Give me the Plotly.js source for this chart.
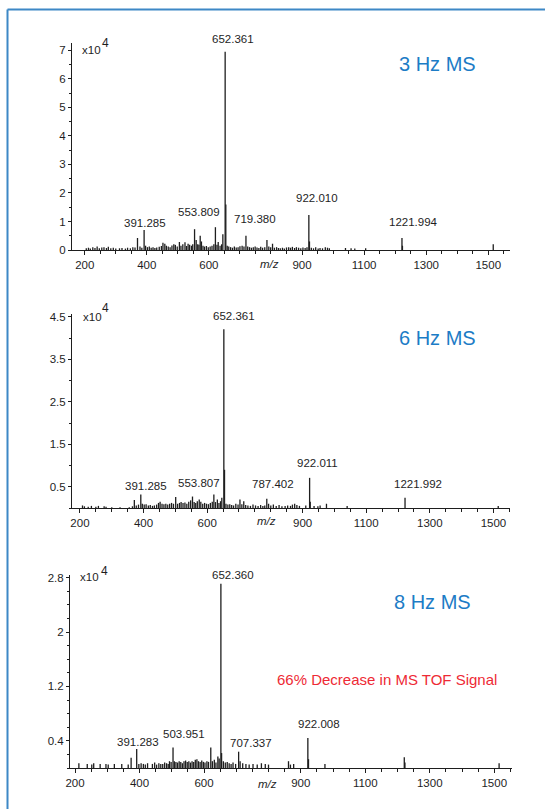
<!DOCTYPE html>
<html>
<head>
<meta charset="utf-8">
<script src="https://cdn.plot.ly/plotly-3.0.1.min.js"></script>
<style>
  html, body { margin: 0; padding: 0; background: #ffffff; }
  #chart { width: 545px; height: 809px; }
</style>
</head>
<body>
<div id="chart"></div>
<script>
// ---------------- DATA (intensity in units of 10^4 counts) ----------------
// Panel 1 : 3 Hz MS
const mz1 = [
  205, 212, 218, 226, 233, 240, 247, 255, 262, 270,
  276, 284, 292, 300, 312, 320, 331, 338, 347, 355,
  362, 370, 378, 384, 391.285, 396, 402, 408, 414, 420,
  426, 432, 440, 447, 452, 458, 463, 469, 475, 481,
  487, 492, 498, 505, 510, 516, 523, 528, 533, 538,
  544, 548, 553.809, 559, 564, 568, 572, 576, 581, 586,
  592, 598, 604, 610, 616, 621, 626, 630, 636, 641,
  645, 652.361, 654.5, 659, 664, 670, 676, 682, 688, 694,
  700, 707, 713, 719.380, 725, 731, 737, 743, 749, 755,
  761, 767, 773, 780, 787, 793, 799, 805, 811, 818,
  824, 830, 837, 843, 850, 857, 863, 869, 876, 882,
  889, 896, 903, 910, 916, 922.010, 924, 930, 937, 944,
  952, 958, 966, 975, 982, 988, 1040, 1058, 1070, 1105,
  1221.994, 1223.5, 1516
];
const int1 = [
  .06, .08, .05, .1, .07, .12, .06, .09, .1, .07,
  .11, .06, .08, .05, .06, .07, .05, .08, .06, .1,
  .09, .42, .12, .08, .7, .15, .1, .12, .08, .1,
  .07, .09, .11, .14, .25, .22, .15, .12, .1, .16,
  .2, .18, .12, .28, .15, .2, .27, .14, .22, .18,
  .15, .2, .73, .35, .2, .18, .5, .3, .15, .12,
  .14, .1, .12, .15, .2, .8, .18, .28, .15, .2,
  .55, 6.95, 1.6, .15, .12, .1, .08, .12, .09, .1,
  .13, .15, .12, .5, .12, .1, .08, .1, .12, .09,
  .07, .11, .08, .1, .35, .12, .1, .22, .08, .1,
  .07, .06, .08, .05, .09, .1, .08, .11, .07, .1,
  .08, .06, .09, .07, .1, 1.23, .3, .08, .06, .1,
  .05, .07, .06, .1, .08, .06, .07, .06, .05, .06,
  .42, .15, .2
];
const labels1 = ['652.361', '391.285', '553.809', '719.380', '922.010', '1221.994'];

// Panel 2 : 6 Hz MS
const mz2 = [
  208, 214, 226, 236, 250, 258, 276, 282, 300, 326,
  355, 365, 371, 377, 384, 391.285, 396, 402, 408, 415,
  421, 428, 434, 441, 447, 452, 458, 464, 470, 476,
  482, 488, 494, 501, 507, 513, 518, 524, 530, 536,
  542, 548, 553.807, 559, 564, 569, 575, 580, 586, 592,
  598, 604, 610, 616, 621, 626, 632, 637, 642, 646,
  652.361, 654.5, 659, 665, 671, 677, 683, 690, 697, 703,
  709, 715, 721, 728, 736, 744, 752, 760, 768, 775,
  781, 787.402, 793, 800, 808, 817, 826, 835, 845, 853,
  862, 868, 875, 882, 890, 910, 922.011, 924, 936, 948,
  955, 975, 1040, 1221.992, 1515
];
const int2 = [
  .06, .04, .03, .05, .03, .05, .04, .03, .02, .02,
  .02, .04, .19, .06, .08, .32, .1, .08, .09, .06,
  .07, .05, .06, .08, .12, .15, .1, .09, .1, .08,
  .1, .12, .1, .26, .1, .12, .14, .12, .13, .1,
  .15, .18, .27, .14, .12, .16, .2, .15, .1, .12,
  .1, .09, .12, .15, .32, .14, .2, .12, .16, .24,
  4.21, .9, .1, .08, .09, .07, .06, .1, .08, .2,
  .09, .16, .07, .06, .05, .08, .06, .05, .07, .05,
  .06, .22, .1, .06, .08, .05, .07, .04, .05, .06,
  .05, .08, .1, .07, .05, .06, .71, .15, .05, .04,
  .06, .1, .05, .24, .05
];
const labels2 = ['652.361', '391.285', '553.807', '787.402', '922.011', '1221.992'];

// Panel 3 : 8 Hz MS
const mz3 = [
  212, 238, 252, 258, 278, 296, 303, 322, 345, 365,
  374, 391.283, 398, 405, 412, 418, 425, 440, 447, 453,
  460, 466, 472, 478, 484, 489, 493, 498, 503.951, 508,
  513, 518, 523, 528, 533, 538, 543, 548, 553, 558,
  563, 568, 573, 578, 583, 588, 593, 598, 603, 609,
  614, 621, 626, 632, 637, 643, 647, 652.360, 654.5, 660,
  666, 672, 678, 684, 690, 698, 707.337, 712, 720, 730,
  740, 752, 765, 778, 790, 800, 862, 868, 878, 922.008,
  924, 975, 1221, 1223, 1515
];
const int3 = [
  .07, .06, .05, .07, .06, .06, .05, .06, .06, .05,
  .15, .28, .06, .07, .06, .05, .07, .06, .08, .05,
  .07, .06, .06, .08, .07, .06, .1, .09, .3, .1,
  .09, .08, .1, .09, .07, .1, .11, .09, .1, .08,
  .1, .09, .12, .13, .1, .09, .11, .09, .08, .1,
  .09, .3, .1, .12, .08, .17, .14, 2.71, .22, .1,
  .08, .09, .07, .06, .08, .06, .24, .1, .07, .06,
  .05, .06, .05, .07, .06, .05, .1, .05, .06, .44,
  .13, .06, .16, .08, .07
];
const labels3 = ['652.360', '391.283', '503.951', '707.337', '922.008'];

const panelTitles = ['3 Hz MS', '6 Hz MS', '8 Hz MS'];
const noteText = '66% Decrease in MS TOF Signal';
const xTickVals = [200, 400, 600, 900, 1100, 1300, 1500];
const yTickVals1 = [0, 1, 2, 3, 4, 5, 6, 7];
const yTickVals2 = [0.5, 1.5, 2.5, 3.5, 4.5];
const yTickVals3 = [0.4, 1.2, 2, 2.8];
const yTickText3 = ['0.4', '1.2', '2', '2.8'];

// ---------------- LAYOUT / STYLE ----------------
const L = 70, R = 33, Wp = 545 - L - R, H = 809;
const FONT = 'Liberation Sans, Arial, Helvetica, sans-serif';
const INK = '#1e1e1e';
const BLUE = '#1c7cc6';
const RED = '#ee2a35';

function sticks(mz, inten) {
  const x = [], y = [];
  for (let i = 0; i < mz.length; i++) {
    x.push(mz[i], mz[i], null);
    y.push(0, inten[i], null);
  }
  return { x, y };
}
function trace(mz, inten, xa, ya) {
  const s = sticks(mz, inten);
  return { type: 'scatter', mode: 'lines', x: s.x, y: s.y, xaxis: xa, yaxis: ya,
           line: { color: INK, width: 1.3 }, hoverinfo: 'skip', showlegend: false };
}
function P(px, py) { return { x: (px - L) / Wp, y: 1 - py / H }; }
function ann(px, py, text, size, color, extra) {
  const p = P(px, py);
  return Object.assign({ xref: 'paper', yref: 'paper', x: p.x, y: p.y, text: text,
    showarrow: false, xanchor: 'center', yanchor: 'middle',
    font: { family: FONT, size: size, color: color } }, extra || {});
}
function xaxisDef(dom, range, anchor) {
  return {
    domain: dom, range: range, anchor: anchor,
    tickmode: 'array', tickvals: xTickVals, ticktext: xTickVals.map(String),
    ticks: 'outside', ticklen: 4, tickwidth: 1, tickcolor: INK,
    showline: true, linecolor: INK, linewidth: 1,
    showgrid: false, zeroline: false,
    tickfont: { family: FONT, size: 11.5, color: INK },
    minor: { tickmode: 'linear', tick0: 0, dtick: 50, ticks: 'outside', ticklen: 3, tickcolor: INK, showgrid: false }
  };
}
function yaxisDef(dom, range, anchor, vals, texts, minorDt) {
  return {
    domain: dom, range: range, anchor: anchor,
    tickmode: 'array', tickvals: vals, ticktext: texts || vals.map(String),
    ticks: 'outside', ticklen: 3, tickwidth: 1, tickcolor: INK,
    showline: true, linecolor: INK, linewidth: 1,
    showgrid: false, zeroline: false,
    tickfont: { family: FONT, size: 11.5, color: INK },
    minor: { tickmode: 'linear', tick0: 0, dtick: minorDt, ticks: 'outside', ticklen: 2, tickcolor: INK, showgrid: false }
  };
}

const dx12 = [2 / Wp, 440 / Wp];
const layout = {
  width: 545, height: 809,
  margin: { l: L, r: R, t: 0, b: 0 },
  paper_bgcolor: '#ffffff', plot_bgcolor: '#ffffff',
  showlegend: false,
  font: { family: FONT, color: INK },
  xaxis:  xaxisDef(dx12, [159, 1570], 'y'),
  yaxis:  yaxisDef([1 - 250 / H, 1 - 43 / H], [0, 7.26], 'x', yTickVals1, null, 0.5),
  xaxis2: xaxisDef(dx12, [175, 1552], 'y2'),
  yaxis2: yaxisDef([1 - 508 / H, 1 - 314 / H], [0, 4.57], 'x2', yTickVals2, null, 0.5),
  xaxis3: xaxisDef([0, 1], [184.5, 1555], 'y3'),
  yaxis3: yaxisDef([1 - 768 / H, 1 - 575 / H], [0, 2.84], 'x3', yTickVals3, yTickText3, 0.2),
  shapes: [
    { type: 'line', xref: 'paper', yref: 'paper', x0: P(7.5, 9.5).x, y0: P(7.5, 9.5).y, x1: P(560, 9.5).x, y1: P(560, 9.5).y,
      line: { color: '#3d88c6', width: 2 } },
    { type: 'line', xref: 'paper', yref: 'paper', x0: P(7.5, 9.5).x, y0: P(7.5, 9.5).y, x1: P(7.5, 830).x, y1: P(7.5, 830).y,
      line: { color: '#3d88c6', width: 2 } }
  ],
  annotations: []
};

const A = layout.annotations;
// panel titles
A.push(ann(437, 64, panelTitles[0], 20, BLUE));
A.push(ann(437, 338, panelTitles[1], 20, BLUE));
A.push(ann(432, 602, panelTitles[2], 20, BLUE));
A.push(ann(387, 679, noteText, 15, RED));
// x10^4 labels
[[80, 50, 105, 43], [81, 317, 105.5, 308], [78, 577, 104.5, 571]].forEach(function (q) {
  A.push(ann(q[0], q[1], 'x10', 11.5, INK, { xanchor: 'left' }));
  A.push(ann(q[2], q[3], '4', 12, INK));
});
// m/z axis labels
[[269, 264], [266, 521], [267, 784]].forEach(function (q) {
  A.push(ann(q[0], q[1], '<i>m/z</i>', 11.5, INK));
});
// peak labels
const lp1 = [[233, 39], [145, 223], [199, 212], [255, 219], [317, 198], [413, 222]];
const lp2 = [[234, 316], [146, 486], [199, 483], [273, 484], [317, 463], [418, 484]];
const lp3 = [[233, 575], [138, 742], [184, 734], [251, 743], [319, 724]];
labels1.forEach(function (t, i) { A.push(ann(lp1[i][0], lp1[i][1], t, 11.5, INK)); });
labels2.forEach(function (t, i) { A.push(ann(lp2[i][0], lp2[i][1], t, 11.5, INK)); });
labels3.forEach(function (t, i) { A.push(ann(lp3[i][0], lp3[i][1], t, 11.5, INK)); });

const data = [
  trace(mz1, int1, 'x', 'y'),
  trace(mz2, int2, 'x2', 'y2'),
  trace(mz3, int3, 'x3', 'y3')
];

Plotly.newPlot('chart', data, layout, { staticPlot: true, displayModeBar: false });
</script>
</body>
</html>
